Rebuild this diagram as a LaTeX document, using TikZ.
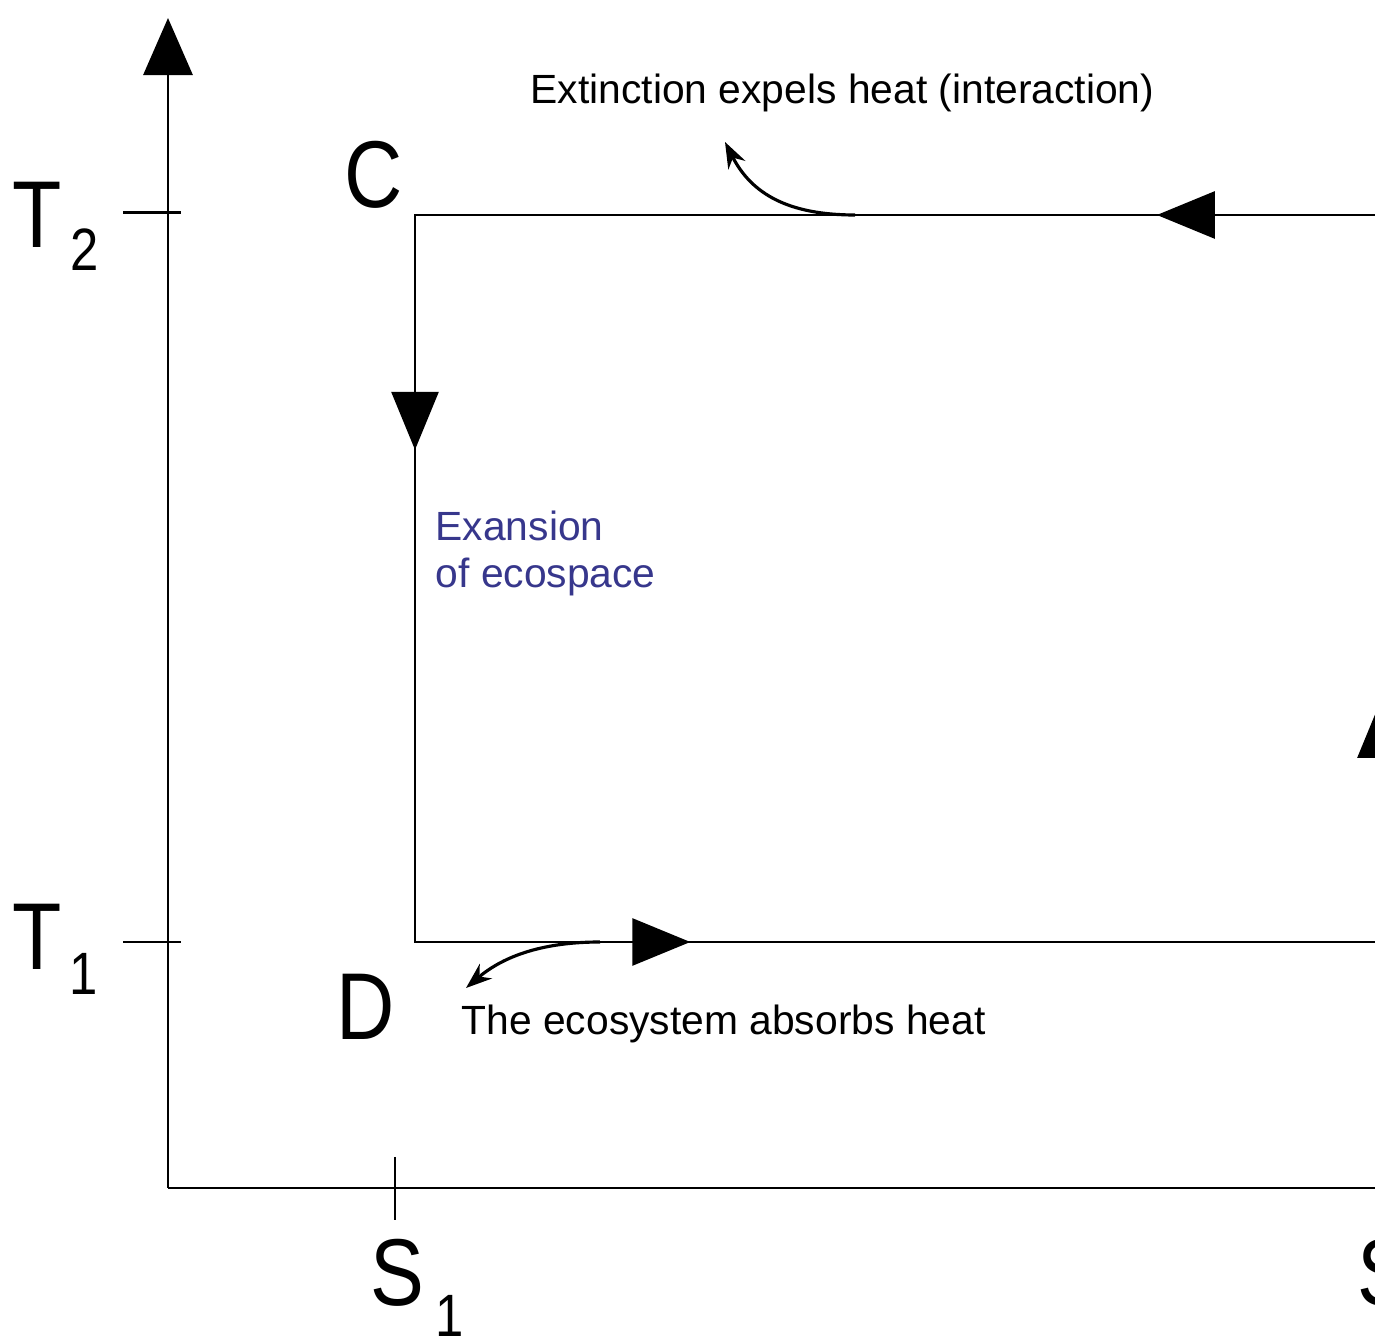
\documentclass[tikz,border=0pt]{standalone}
\usepackage{fontspec}
\setmainfont{Liberation Sans}
\usetikzlibrary{arrows.meta,decorations.markings}
\definecolor{labelblue}{RGB}{55,55,140}
\newcommand\narrowtxt[1]{\scalebox{0.85}[1]{#1}}
\tikzset{
  axisline/.style={line width=0.85pt},
  cycleline/.style={line width=0.8pt, line cap=rect},
  bigtri/.tip={Triangle[length=5.8mm,width=4.7mm]},
  midarrow/.style={postaction={decorate,decoration={markings,mark=at position #1 with {\arrow{bigtri}}}}},
  heatarrow/.style={line width=0.9pt,-{Stealth[length=2.6mm,width=1.9mm]}},
  biglabel/.style={font=\fontsize{27}{27}\selectfont, inner sep=0pt, anchor=base west},
  note/.style={font=\fontsize{11.6}{13.4}\selectfont, inner sep=0pt, anchor=base west, align=left},
}
\begin{document}
\begin{tikzpicture}[x=0.01cm,y=-0.01cm]
\useasboundingbox (0,0) rectangle (1375,1340);
\clip (0,0) rectangle (1375,1340);
% axes
\coordinate (O) at (168,1188);
\coordinate (Ytop) at (168,18);
\coordinate (Xend) at (1400,1188);
\draw[axisline] (O) -- (Xend);
\draw[axisline,-{Triangle[length=5.7mm,width=4.9mm]}] (O) -- (Ytop);
% ticks
\coordinate (t2a) at (123,213); \coordinate (t2b) at (181,213);
\coordinate (t1a) at (123,942); \coordinate (t1b) at (181,942);
\coordinate (s1a) at (395,1157); \coordinate (s1b) at (395,1220);
\draw[axisline] (t2a) -- (t2b);
\draw[axisline] (t1a) -- (t1b);
\draw[axisline] (s1a) -- (s1b);
% axis labels
\node[biglabel] (T2) at (12,248) {\narrowtxt{T}\hspace{2.5pt}\raisebox{-6.3pt}{\fontsize{17}{17}\selectfont\narrowtxt{2}}};
\node[biglabel] (T1) at (12,970) {\narrowtxt{T}\hspace{2pt}\raisebox{-7.1pt}{\fontsize{17}{17}\selectfont\narrowtxt{1}}};
\node[biglabel] (S1) at (370,1305) {\narrowtxt{S}\hspace{3pt}\raisebox{-9pt}{\fontsize{17}{17}\selectfont\narrowtxt{1}}};
\node[biglabel] (S2) at (1357,1305) {\narrowtxt{S}};
% cycle corners
\coordinate (C) at (415,215);
\coordinate (D) at (415,942);
\coordinate (A) at (1381,942);
\coordinate (B) at (1381,215);
\node[biglabel] (Clab) at (344,208) {\narrowtxt{C}};
\node[biglabel] (Dlab) at (336,1040) {\narrowtxt{D}};
\draw[cycleline,midarrow=0.232] (B) -- (C);
\draw[cycleline,midarrow=0.323] (C) -- (D);
\draw[cycleline,midarrow=0.285] (D) -- (A);
\draw[cycleline,midarrow=0.333] (A) -- (B);
% heat arrows
\coordinate (ex0) at (855,215);
\coordinate (ex1) at (725,142);
\draw[heatarrow] (ex0) .. controls (790,215) and (752,195) .. (ex1);
\coordinate (ab0) at (600,942);
\coordinate (ab1) at (466,988);
\draw[heatarrow] (ab0) .. controls (545,942) and (505,955) .. (ab1);
% notes
\node[note] (ext) at (530,104) {Extinction expels heat (interaction)};
\node[note] (abs) at (461,1035) {The ecosystem absorbs heat};
\node[note, text=labelblue] (expn) at (435,588) {Exansion\\of ecospace};
\end{tikzpicture}
\end{document}
